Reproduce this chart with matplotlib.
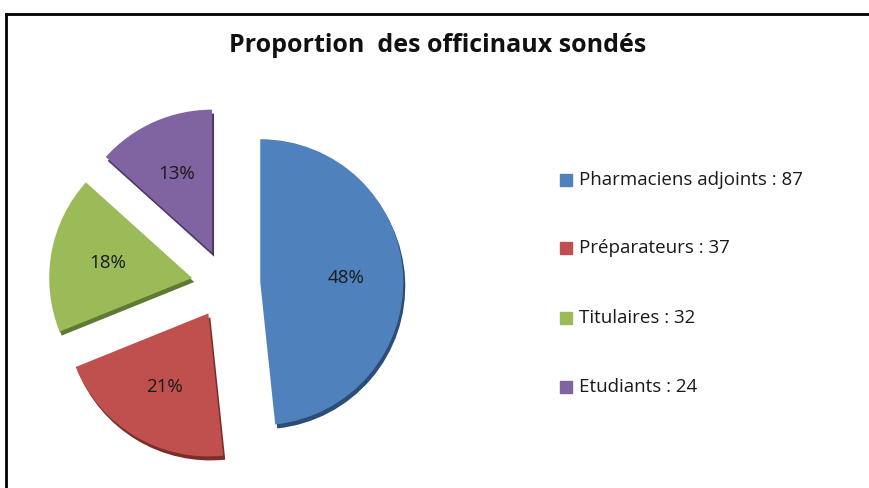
import matplotlib.pyplot as plt
import matplotlib.lines as mlines
import matplotlib.patches as mpatches

categories = ['Pharmaciens adjoints', 'Préparateurs', 'Titulaires', 'Etudiants']
counts = [87, 37, 32, 24]
colors = ['#4F81BD', '#C0504D', '#9BBB59', '#8064A2']
shade = ['#2c4d75', '#7a2e2c', '#5f7a32', '#4a3866']

plt.rcParams['font.family'] = ['Open Sans', 'DejaVu Sans']

fig = plt.figure(figsize=(8.7, 4.88), dpi=100)
ax = fig.add_axes([0, 0, 1, 1])

cx, cy, r = 226, 488 - 284, 143
# pie explode is in data units here, not in radius units
expl = [0.24 * r] * len(counts)

# darker copy underneath for a bit of depth
ax.pie(counts, colors=shade, explode=expl, startangle=90, counterclock=False,
       radius=r, center=(cx + 2, cy - 4), wedgeprops=dict(linewidth=0))
wedges, texts, autotexts = ax.pie(counts, colors=colors, explode=expl, startangle=90,
                                  counterclock=False, radius=r, center=(cx, cy),
                                  autopct='%1.0f%%', pctdistance=0.6,
                                  wedgeprops=dict(linewidth=0),
                                  textprops=dict(fontsize=13.5, color='#1a1a1a'))

ax.set_xlim(0, 870)
ax.set_ylim(0, 488)
ax.set_aspect('equal')
ax.axis('off')

fig.text(0.503, 1 - 45 / 488, 'Proportion  des officinaux sondés', ha='center', va='center',
         fontsize=18, fontweight='bold', color='#111111')

# legend
ys = [180, 248, 318, 387]
for cat, n, col, y in zip(categories, counts, colors, ys):
    fig.patches.append(mpatches.Rectangle((560 / 870, 1 - (y + 6) / 488), 12 / 870, 12 / 488,
                                          transform=fig.transFigure, color=col))
    fig.text(579 / 870, 1 - y / 488, '%s : %d' % (cat, n), ha='left', va='center',
             fontsize=13.5, color='#1a1a1a')

# frame lines
fig.lines.append(mlines.Line2D([6 / 870, 6 / 870], [0, 1 - 14 / 488], transform=fig.transFigure,
                               color='black', lw=2))
fig.lines.append(mlines.Line2D([6 / 870, 1], [1 - 14 / 488, 1 - 14 / 488], transform=fig.transFigure,
                               color='black', lw=2))

fig.savefig('out.png', dpi=100)
